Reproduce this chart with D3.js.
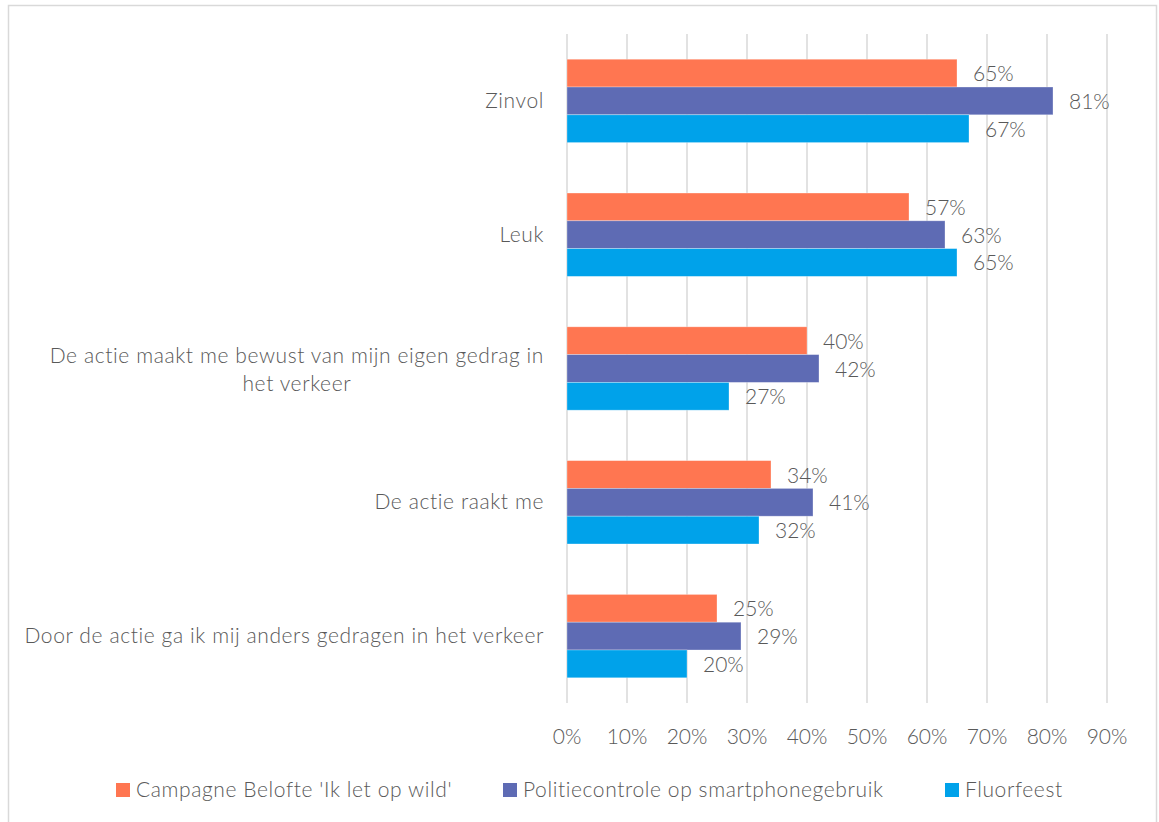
<!DOCTYPE html>
<html>
<head>
<meta charset="utf-8">
<script src="https://cdn.jsdelivr.net/npm/d3@7"></script>
<style>
  body { margin: 0; background: #fff; }
  svg text { font-family: "Source Sans Pro", Lato, "Open Sans", sans-serif; font-weight: 300; fill: #595959; }
  .wide { letter-spacing: 0.6px; }
</style>
</head>
<body>
<svg id="chart" width="1159" height="822"></svg>
<script>
// data
let categories = [
  ["Zinvol"],
  ["Leuk"],
  ["De actie maakt me bewust van mijn eigen gedrag in", "het verkeer"],
  ["De actie raakt me"],
  ["Door de actie ga ik mij anders gedragen in het verkeer"]
];
let seriesNames = ["Campagne Belofte 'Ik let op wild'", "Politiecontrole op smartphonegebruik", "Fluorfeest"];
let campagne = [65, 57, 40, 34, 25];
let politie = [81, 63, 42, 41, 29];
let fluor = [67, 65, 27, 32, 20];
let ticks = [0, 10, 20, 30, 40, 50, 60, 70, 80, 90];
let colors = ["#FF7651", "#5E6BB4", "#00A2EA"];

let series = [campagne, politie, fluor];
let svg = d3.select("#chart");

// outer border
svg.append("rect")
  .attr("x", 8.5).attr("y", 5.5)
  .attr("width", 1148).attr("height", 830)
  .attr("fill", "none")
  .attr("stroke", "#D9D9D9")
  .attr("stroke-width", 1.5);

let x = d3.scaleLinear().domain([0, 90]).range([567, 1107]);
let y = d3.scaleBand()
  .domain(d3.range(categories.length))
  .range([34, 703])
  .paddingInner(0.377)
  .paddingOuter(0.1885);
let ySub = d3.scaleBand().domain(d3.range(series.length)).range([0, y.bandwidth()]);

// gridlines
svg.append("g")
  .selectAll("line")
  .data(ticks)
  .join("line")
  .attr("x1", (d) => x(d)).attr("x2", (d) => x(d))
  .attr("y1", 34).attr("y2", 703)
  .attr("stroke", "#D9D9D9")
  .attr("stroke-width", 1.5);

// tick labels
svg.append("g")
  .selectAll("text")
  .data(ticks)
  .join("text")
  .attr("x", (d) => x(d))
  .attr("y", 744)
  .attr("text-anchor", "middle")
  .attr("font-size", 21)
  .text((d) => d + "%");

// bars
series.forEach((values, s) => {
  let g = svg.append("g");
  g.selectAll("rect")
    .data(values)
    .join("rect")
    .attr("x", x(0))
    .attr("y", (d, i) => y(i) + ySub(s))
    .attr("width", (d) => x(d) - x(0))
    .attr("height", ySub.bandwidth())
    .attr("fill", colors[s])
    .attr("stroke", "#fff")
    .attr("stroke-opacity", 0.4)
    .attr("stroke-width", 0.75);
  g.selectAll("text")
    .data(values)
    .join("text")
    .attr("x", (d) => x(d) + 16)
    .attr("y", (d, i) => y(i) + ySub(s) + ySub.bandwidth() / 2 + 8)
    .attr("font-size", 21)
    .text((d) => d + "%");
});

// category labels
let catG = svg.append("g");
categories.forEach((lines, i) => {
  let cy = y(i) + y.bandwidth() / 2;
  if (lines.length == 1) {
    catG.append("text")
      .attr("class", "wide")
      .attr("x", 544)
      .attr("y", cy + 7)
      .attr("text-anchor", "end")
      .attr("font-size", 21)
      .text(lines[0]);
  } else {
    let first = catG.append("text")
      .attr("class", "wide")
      .attr("x", 544)
      .attr("y", cy - 6)
      .attr("text-anchor", "end")
      .attr("font-size", 21)
      .text(lines[0]);
    let w = first.node().getComputedTextLength();
    catG.append("text")
      .attr("class", "wide")
      .attr("x", 544 - w / 2)
      .attr("y", cy + 22)
      .attr("text-anchor", "middle")
      .attr("font-size", 21)
      .text(lines[1]);
  }
});

// legend
let legendX = [116, 503, 945];
let legend = svg.append("g")
  .selectAll("g")
  .data(seriesNames)
  .join("g")
  .attr("transform", (d, i) => `translate(${legendX[i]},783)`);
legend.append("rect")
  .attr("width", 14).attr("height", 14)
  .attr("fill", (d, i) => colors[i]);
legend.append("text")
  .attr("class", "wide")
  .attr("x", 20).attr("y", 14)
  .attr("font-size", 21)
  .text((d) => d);
</script>
</body>
</html>
